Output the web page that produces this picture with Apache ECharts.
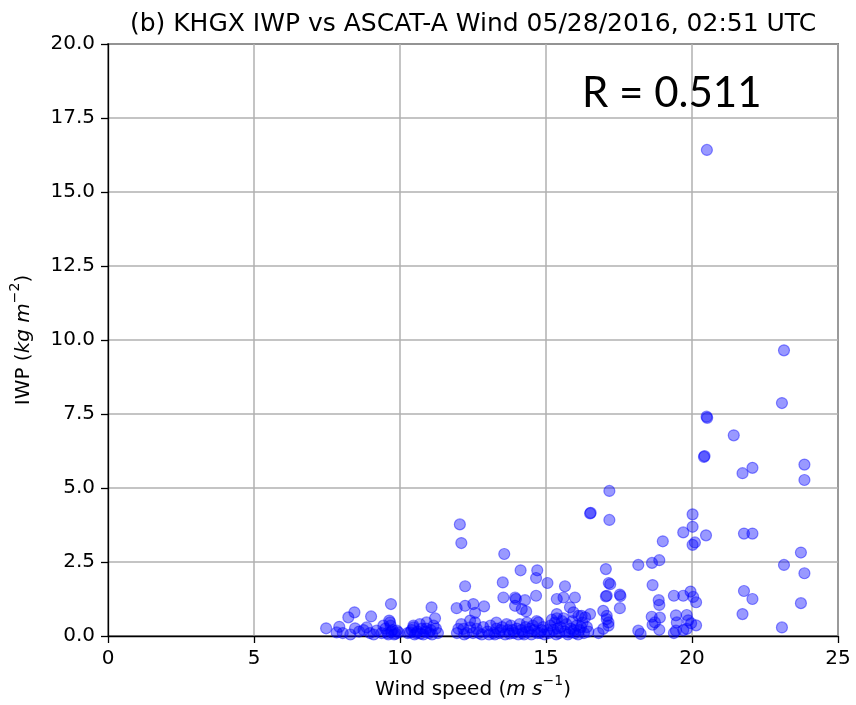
<!DOCTYPE html>
<html>
<head>
<meta charset="utf-8">
<script src="https://cdn.jsdelivr.net/npm/echarts@6/dist/echarts.min.js"></script>
<style>html,body{margin:0;padding:0;background:#fff;}#c{width:856px;height:705px;}</style>
</head>
<body>
<div id="c"></div>
<script>
const titleText = '(b) KHGX IWP vs ASCAT-A Wind 05/28/2016, 02:51 UTC';
const rText = 'R = 0.511';
const xTicks = [0, 5, 10, 15, 20, 25];
const yTicks = [0, 2.5, 5, 7.5, 10, 12.5, 15, 17.5, 20];
// [wind speed (m/s), IWP (kg/m^2)]
const windIwp = [
  [7.47,0.26],[7.83,0.12],[7.92,0.31],[8.04,0.10],[8.23,0.63],[8.44,0.80],[8.46,0.26],[8.3,0.05],[8.6,0.15],
  [8.75,0.2],[8.86,0.29],[8.97,0.10],[9.01,0.66],[9.1,0.05],[9.2,0.18],[9.37,0.1],[9.43,0.35],[9.5,0.25],
  [9.57,0.1],[9.63,0.52],[9.66,0.46],[9.68,0.35],[9.69,1.08],[9.75,0.2],[9.8,0.05],[9.89,0.18],
  [9.6,0.05],[9.7,0.15],[9.85,0.08],[9.95,0.12],
  [10.26,0.1],[10.34,0.12],[10.46,0.29],[10.46,0.35],[10.5,0.05],[10.6,0.15],[10.68,0.40],[10.75,0.25],
  [10.8,0.05],[10.88,0.15],[10.91,0.46],[10.9,0.25],[11.0,0.1],[11.08,0.97],[11.15,0.35],[11.2,0.60],
  [11.23,0.25],[11.3,0.1],[10.4,0.2],[10.55,0.1],[10.7,0.08],[11.05,0.2],[11.1,0.05],
  [11.94,0.94],[11.95,0.1],[12.0,0.24],[12.05,3.77],[12.1,3.14],[12.1,0.4],[12.17,0.24],[12.23,1.68],
  [12.23,1.02],[12.29,0.1],[12.4,0.29],[12.4,0.52],[12.51,1.08],[12.57,0.78],[12.57,0.46],[12.63,0.24],
  [12.7,0.1],[12.85,0.3],[12.88,1.0],[13.0,0.15],[13.1,0.35],[13.2,0.1],[13.3,0.25],[13.3,0.45],
  [12.2,0.05],[12.5,0.1],[12.8,0.05],[13.05,0.05],[13.25,0.05],
  [13.52,1.81],[13.57,2.77],[13.54,1.30],[13.94,1.30],[13.97,1.25],[14.28,1.21],[14.66,1.36],[13.94,1.02],
  [14.17,0.91],[14.32,0.83],[14.13,2.22],[14.70,2.22],[14.66,1.96],[15.05,1.79],[14.68,0.50],[14.74,0.46],
  [13.4,0.1],[13.5,0.3],[13.6,0.05],[13.65,0.4],[13.7,0.2],[13.8,0.35],[13.9,0.1],[14.0,0.25],[14.05,0.05],
  [14.1,0.4],[14.2,0.1],[14.3,0.3],[14.35,0.45],[14.4,0.15],[14.5,0.05],[14.55,0.35],[14.6,0.2],[14.8,0.1],
  [14.9,0.3],[13.45,0.2],[13.75,0.08],[13.85,0.2],[14.15,0.2],[14.25,0.05],[14.45,0.25],[14.7,0.1],
  [14.85,0.2],[14.95,0.05],
  [15.37,1.25],[15.6,1.30],[15.99,1.30],[15.65,1.68],[15.82,0.97],[15.94,0.80],[15.37,0.74],[15.37,0.6],
  [16.11,0.68],[16.22,0.68],[16.34,0.63],[16.51,0.74],
  [15.1,0.1],[15.15,0.35],[15.2,0.55],[15.25,0.2],[15.3,0.45],[15.45,0.1],[15.5,0.3],[15.55,0.5],[15.6,0.6],
  [15.65,0.15],[15.7,0.4],[15.75,0.05],[15.85,0.25],[15.9,0.5],[16.0,0.1],[16.05,0.35],[16.15,0.2],
  [16.25,0.45],[16.3,0.1],[16.4,0.3],[16.45,0.15],[15.05,0.2],[15.35,0.05],[15.4,0.25],[15.8,0.12],
  [15.95,0.2],[16.1,0.05],[16.2,0.3],
  [16.51,4.14],[16.53,4.16],
  [17.05,2.26],[17.17,4.90],[17.17,3.92],[17.15,1.79],[17.2,1.75],[17.05,1.34],[17.08,1.36],[17.53,1.40],
  [17.55,1.35],[17.53,0.94],[16.96,0.85],[17.08,0.68],[17.08,0.57],[17.14,0.46],[17.14,0.35],[16.96,0.24],
  [16.8,0.1],
  [18.16,2.40],[18.16,0.18],[18.24,0.07],[18.63,2.47],[18.88,2.56],[19.0,3.2],[18.65,1.72],[18.86,1.21],
  [18.88,1.05],[18.62,0.65],[18.9,0.62],[18.73,0.46],[18.65,0.38],[18.88,0.21],
  [19.38,1.36],[19.7,1.36],[19.95,1.50],[20.04,1.32],[20.14,1.14],[19.45,0.70],[19.82,0.71],[19.87,0.53],
  [19.48,0.46],[20.14,0.36],[19.97,0.43],[19.82,0.24],[19.45,0.18],[19.38,0.1],[19.7,0.20],[19.70,3.50],
  [20.02,4.11],[20.02,3.69],[20.48,3.40],[20.10,3.16],[20.02,3.08],[20.5,7.41],[20.52,7.37],[20.41,6.05],
  [20.43,6.08],[20.51,16.42],
  [21.43,6.78],[21.73,5.50],[22.07,5.68],[21.78,3.46],[22.07,3.46],[21.78,1.52],[22.07,1.25],[21.73,0.74],
  [23.08,7.87],[23.15,9.65],[23.85,5.79],[23.85,5.27],[23.73,2.82],[23.15,2.40],[23.85,2.12],[23.73,1.11],
  [23.08,0.29]
];

const chart = echarts.init(document.getElementById('c'), null, {renderer: 'canvas'});
const font = 'DejaVu Sans';
const nameRich = {
  n: {fontFamily: font, fontSize: 20, color: '#000', lineHeight: 26, verticalAlign: 'bottom'},
  i: {fontFamily: font, fontSize: 20, fontStyle: 'italic', color: '#000', lineHeight: 26, verticalAlign: 'bottom'},
  s: {fontFamily: font, fontSize: 14, color: '#000', lineHeight: 14, verticalAlign: 'top'}
};
chart.setOption({
  animation: false,
  backgroundColor: '#fff',
  title: {
    text: titleText, left: 468, top: 7, textAlign: 'center',
    textStyle: {fontFamily: font, fontSize: 25, fontWeight: 'normal', color: '#000'}
  },
  grid: {left: 108, right: 18, top: 44, bottom: 68, show: true, borderColor: '#000', borderWidth: 1.3, backgroundColor: 'transparent'},
  xAxis: {
    type: 'value', min: xTicks[0], max: xTicks[xTicks.length-1], interval: 5,
    name: '{n|Wind speed (}{i|m s}{s|−1}{n|)}', nameLocation: 'middle', nameGap: 38,
    nameTextStyle: {rich: nameRich},
    axisLine: {show: true, onZero: false, lineStyle: {color: '#000', width: 1.3}},
    axisTick: {show: true, inside: false, length: 7, lineStyle: {color: '#000', width: 1.3}},
    axisLabel: {fontFamily: font, fontSize: 20, color: '#000', margin: 13},
    splitLine: {show: true, lineStyle: {color: '#b0b0b0', width: 1.5}}
  },
  yAxis: {
    type: 'value', min: yTicks[0], max: yTicks[yTicks.length-1], interval: 2.5,
    name: '{n|IWP (}{i|kg m}{s|−2}{n|)}', nameLocation: 'middle', nameGap: 74, nameRotate: 90,
    nameTextStyle: {rich: nameRich},
    axisLine: {show: true, onZero: false, lineStyle: {color: '#000', width: 1.3}},
    axisTick: {show: true, inside: false, length: 7, lineStyle: {color: '#000', width: 1.3}},
    axisLabel: {fontFamily: font, fontSize: 20, color: '#000', margin: 13, formatter: v => v.toFixed(1)},
    splitLine: {show: true, lineStyle: {color: '#b0b0b0', width: 1.5}}
  },
  graphic: [{
    type: 'text', left: 582, top: 72, z: 100,
    style: {text: rText, font: '42px Lato', fill: '#000'}
  }],
  series: [{
    type: 'scatter',
    data: windIwp,
    symbol: 'circle',
    symbolSize: 11,
    itemStyle: {color: 'rgba(0,0,255,0.5)', borderColor: 'rgba(0,0,255,0.55)', borderWidth: 1.2}
  }]
});
</script>
</body>
</html>
